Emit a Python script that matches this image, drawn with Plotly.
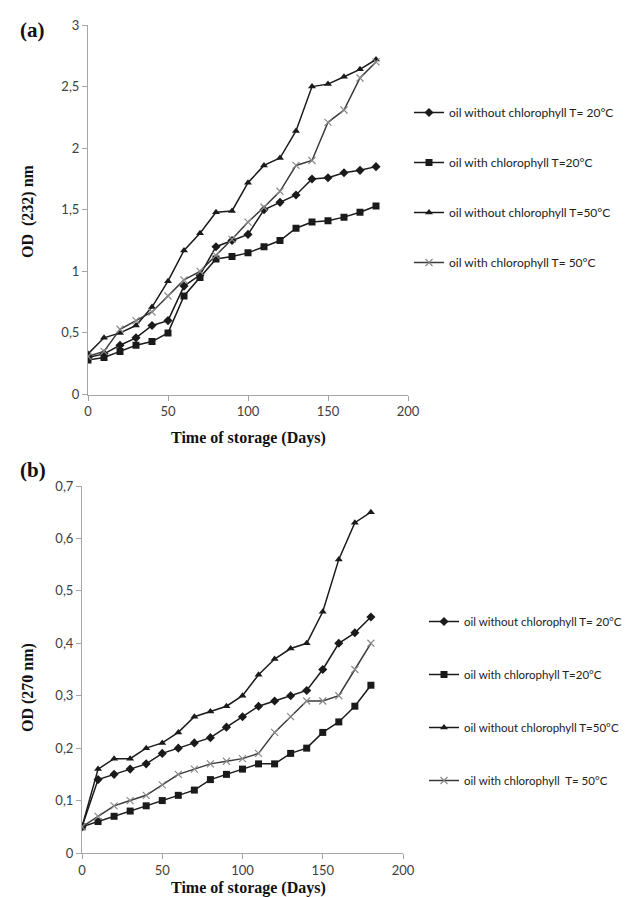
import plotly.graph_objects as go

days = [0, 10, 20, 30, 40, 50, 60, 70, 80, 90, 100, 110, 120, 130, 140, 150, 160, 170, 180]

# Panel (a): OD 232 nm
a_without_20 = [0.30, 0.33, 0.40, 0.46, 0.56, 0.60, 0.88, 0.97, 1.20, 1.25, 1.30, 1.50, 1.56, 1.62, 1.75, 1.76, 1.80, 1.82, 1.85]
a_with_20 = [0.28, 0.30, 0.35, 0.40, 0.43, 0.50, 0.80, 0.95, 1.10, 1.12, 1.15, 1.20, 1.25, 1.35, 1.40, 1.41, 1.44, 1.48, 1.53]
a_without_50 = [0.33, 0.46, 0.50, 0.56, 0.71, 0.92, 1.17, 1.31, 1.48, 1.49, 1.72, 1.86, 1.92, 2.14, 2.50, 2.52, 2.58, 2.64, 2.72]
a_with_50 = [0.31, 0.35, 0.53, 0.60, 0.67, 0.80, 0.93, 1.00, 1.13, 1.26, 1.40, 1.52, 1.65, 1.86, 1.90, 2.21, 2.31, 2.57, 2.70]

# Panel (b): OD 270 nm
b_without_20 = [0.05, 0.14, 0.15, 0.16, 0.17, 0.19, 0.20, 0.21, 0.22, 0.24, 0.26, 0.28, 0.29, 0.30, 0.31, 0.35, 0.40, 0.42, 0.45]
b_with_20 = [0.05, 0.06, 0.07, 0.08, 0.09, 0.10, 0.11, 0.12, 0.14, 0.15, 0.16, 0.17, 0.17, 0.19, 0.20, 0.23, 0.25, 0.28, 0.32]
b_without_50 = [0.05, 0.16, 0.18, 0.18, 0.20, 0.21, 0.23, 0.26, 0.27, 0.28, 0.30, 0.34, 0.37, 0.39, 0.40, 0.46, 0.56, 0.63, 0.65]
b_with_50 = [0.05, 0.07, 0.09, 0.10, 0.11, 0.13, 0.15, 0.16, 0.17, 0.175, 0.18, 0.19, 0.23, 0.26, 0.29, 0.29, 0.30, 0.35, 0.40]

names_a = ["oil without chlorophyll T= 20°C", "oil with chlorophyll T=20°C",
           "oil without chlorophyll T=50°C", "oil with chlorophyll T= 50°C"]
names_b = ["oil without chlorophyll T= 20°C", "oil with chlorophyll T=20°C",
           "oil without chlorophyll T=50°C", "oil with chlorophyll\u00a0 T= 50°C"]

x_title = "Time of storage (Days)"
y_title_a = "OD\u00a0 (232) nm"
y_title_b = "OD (270 nm)"

x_ticks = [0, 50, 100, 150, 200]
a_ticks = [0, 0.5, 1, 1.5, 2, 2.5, 3]
b_ticks = [0, 0.1, 0.2, 0.3, 0.4, 0.5, 0.6, 0.7]

W, H = 632, 897
LINE = "#1a1a1a"
styles = [
    dict(symbol="diamond", size=7, color=LINE, line=dict(width=0)),
    dict(symbol="square", size=7, color=LINE, line=dict(width=0)),
    dict(symbol="triangle-up", size=7, color=LINE, line=dict(width=0)),
    dict(symbol="x-thin", size=7, color="#8a8a8a", line=dict(width=1.2, color="#8a8a8a")),
]
line_cols = [LINE, LINE, LINE, "#3a3a3a"]

fig = go.Figure()
for i, (ys, nm) in enumerate(zip([a_without_20, a_with_20, a_without_50, a_with_50], names_a)):
    fig.add_trace(go.Scatter(x=days, y=ys, name=nm, mode="lines+markers",
                             line=dict(color=line_cols[i], width=1.5), marker=styles[i],
                             xaxis="x", yaxis="y", legend="legend", legendgroup="a%d" % i))
for i, (ys, nm) in enumerate(zip([b_without_20, b_with_20, b_without_50, b_with_50], names_b)):
    fig.add_trace(go.Scatter(x=days, y=ys, name=nm, mode="lines+markers",
                             line=dict(color=line_cols[i], width=1.5), marker=styles[i],
                             xaxis="x2", yaxis="y2", legend="legend2", legendgroup="b%d" % i))

tickfont = dict(family="Lato", size=13, color="#404040")
axis_common = dict(showgrid=False, zeroline=False, showline=True, linecolor="#a6a6a6",
                   linewidth=1, ticks="outside", ticklen=5, tickcolor="#a6a6a6",
                   tickfont=tickfont, automargin=False)


def px_x(v):
    return v / W


def px_y(v):
    return 1 - v / H


def label(text, x, y, size=16, angle=0):
    return dict(text="<b>%s</b>" % text, x=px_x(x), y=px_y(y), xref="paper", yref="paper",
                xanchor="center", yanchor="middle", showarrow=False, textangle=angle,
                borderpad=0,
                font=dict(family="Liberation Serif", size=size, color="#111"))


fig.update_layout(
    width=W, height=H,
    margin=dict(l=0, r=0, t=0, b=0),
    paper_bgcolor="white", plot_bgcolor="white",
    separators=", ",
    xaxis=dict(domain=[px_x(80), px_x(400)], range=[0, 200], tickvals=x_ticks, anchor="y",
               **axis_common),
    yaxis=dict(domain=[px_y(386.5), px_y(17)], range=[0, 3], tickvals=a_ticks, anchor="x",
               **axis_common),
    xaxis2=dict(domain=[px_x(74), px_x(395)], range=[0, 200], tickvals=x_ticks, anchor="y2",
                **axis_common),
    yaxis2=dict(domain=[px_y(845), px_y(478)], range=[0, 0.7], tickvals=b_ticks, anchor="x2",
                **axis_common),
    legend=dict(x=px_x(401), y=px_y(90), xanchor="left", yanchor="top",
                bgcolor="rgba(0,0,0,0)", font=dict(family="Lato", size=12, color="#222"),
                tracegroupgap=31, itemwidth=30),
    legend2=dict(x=px_x(416), y=px_y(599), xanchor="left", yanchor="top",
                 bgcolor="rgba(0,0,0,0)", font=dict(family="Lato", size=11.5, color="#222"),
                 tracegroupgap=34, itemwidth=30),
    annotations=[
        label("(a)", 24, 22, size=21),
        label("(b)", 25, 462, size=21),
        label(x_title, 240, 430),
        label(x_title, 240, 880),
        label(y_title_a, 20, 203, angle=-90),
        label(y_title_b, 20, 680, angle=-90),
    ],
)

fig.write_html("out.html")
